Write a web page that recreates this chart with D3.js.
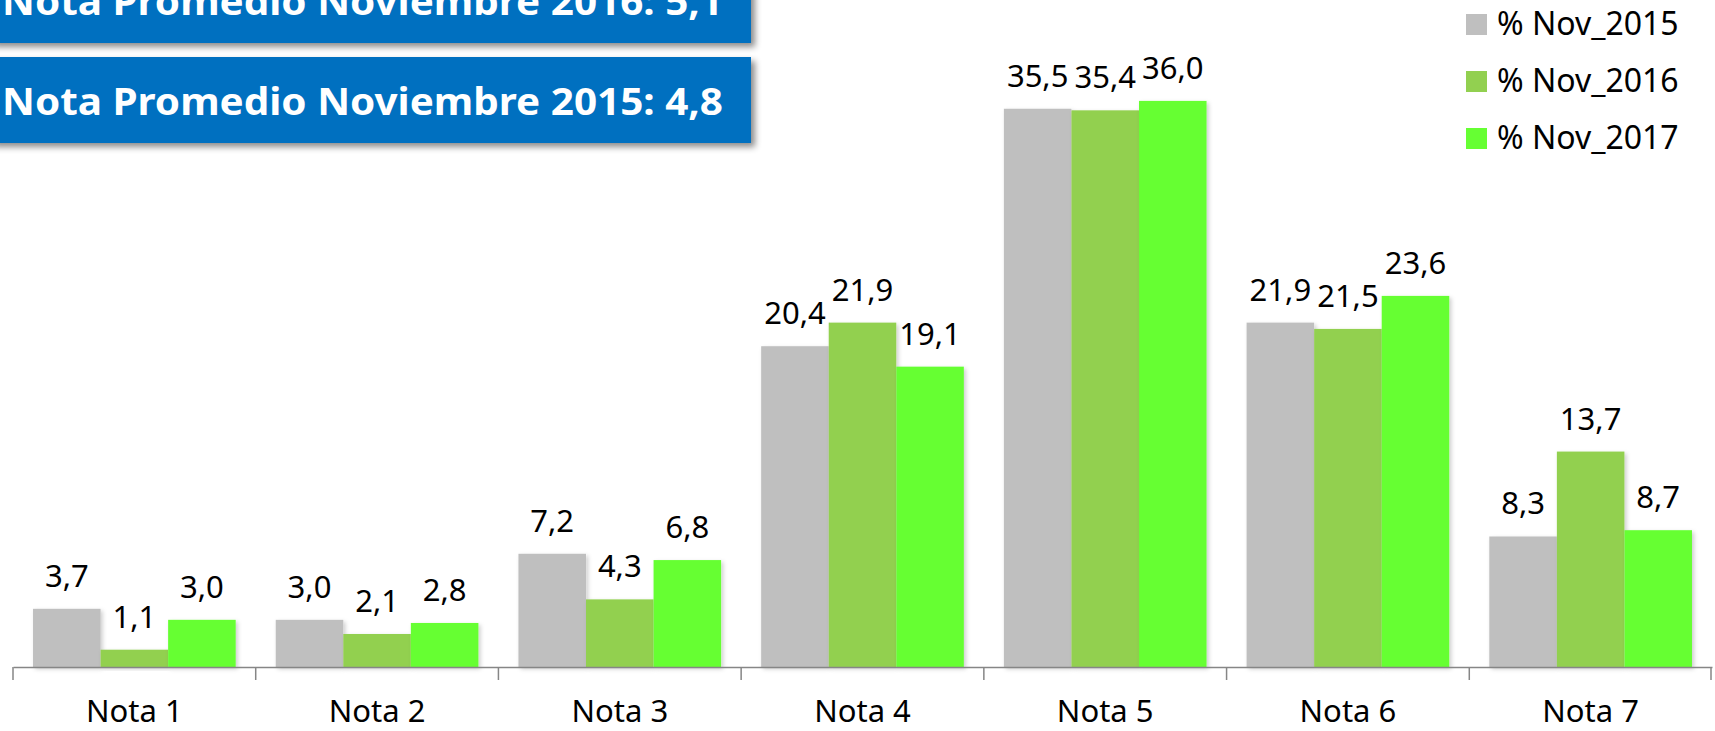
<!DOCTYPE html>
<html>
<head>
<meta charset="utf-8">
<script src="https://cdn.jsdelivr.net/npm/d3@7"></script>
<style>
  html, body { margin: 0; padding: 0; background: #fff; }
  svg { display: block; }
</style>
</head>
<body>
<div id="chart"></div>
<script>
const categories = ['Nota 1', 'Nota 2', 'Nota 3', 'Nota 4', 'Nota 5', 'Nota 6', 'Nota 7'];
const seriesNames = ['% Nov_2015', '% Nov_2016', '% Nov_2017'];
const nov2015 = [3.7, 3.0, 7.2, 20.4, 35.5, 21.9, 8.3];
const nov2016 = [1.1, 2.1, 4.3, 21.9, 35.4, 21.5, 13.7];
const nov2017 = [3.0, 2.8, 6.8, 19.1, 36.0, 23.6, 8.7];
const boxTexts = ['Nota Promedio Noviembre 2016: 5,1', 'Nota Promedio Noviembre 2015: 4,8'];

const colors = ['#BFBFBF', '#92D050', '#66FF33'];
const series = [nov2015, nov2016, nov2017];

const width = 1715, height = 731;
const margin = { top: 38, right: 3, bottom: 64, left: 13 };
const axisY = height - margin.bottom;

const svg = d3.select('#chart')
  .append('svg')
  .attr('width', width)
  .attr('height', height);

const defs = svg.append('defs');
const shadow = defs.append('filter').attr('id', 'shadow')
  .attr('x', '-5%').attr('y', '-20%').attr('width', '115%').attr('height', '160%');
shadow.append('feDropShadow')
  .attr('dx', 4).attr('dy', 4).attr('stdDeviation', 3)
  .attr('flood-color', '#000').attr('flood-opacity', 0.45);

const barShadow = defs.append('filter').attr('id', 'barShadow')
  .attr('x', '-10%').attr('y', '-10%').attr('width', '130%').attr('height', '130%');
barShadow.append('feDropShadow')
  .attr('dx', 2).attr('dy', 2).attr('stdDeviation', 2)
  .attr('flood-color', '#000').attr('flood-opacity', 0.2);

const x = d3.scaleBand()
  .domain(categories)
  .range([margin.left, width - margin.right])
  .paddingInner(0.165)
  .paddingOuter(0.0825);

// outer band for ticks (no padding)
const xTick = d3.scaleBand()
  .domain(categories)
  .range([margin.left, width - margin.right]);

const xSub = d3.scaleBand()
  .domain(d3.range(series.length))
  .range([0, x.bandwidth()]);

const y = d3.scaleLinear().domain([0, 40]).range([axisY, margin.top]);

// bars
const groups = svg.append('g').selectAll('g')
  .data(categories)
  .join('g')
  .attr('transform', d => `translate(${x(d)},0)`);

groups.selectAll('rect')
  .data((d, i) => series.map((s, k) => ({ k, v: s[i] })))
  .join('rect')
  .attr('x', d => xSub(d.k))
  .attr('y', d => y(d.v))
  .attr('width', xSub.bandwidth())
  .attr('height', d => y(0) - y(d.v))
  .attr('fill', d => colors[d.k])
  .attr('filter', 'url(#barShadow)');

groups.selectAll('text')
  .data((d, i) => series.map((s, k) => ({ k, v: s[i] })))
  .join('text')
  .attr('x', d => xSub(d.k) + xSub.bandwidth() / 2)
  .attr('y', d => y(d.v) - 22)
  .attr('text-anchor', 'middle')
  .attr('font-family', 'Noto Sans, sans-serif')
  .attr('font-size', 31)
  .attr('fill', '#000')
  .text(d => d.v.toFixed(1).replace('.', ','));

// x axis
const axis = svg.append('g')
  .attr('transform', `translate(0,${axisY})`)
  .call(d3.axisBottom(xTick).tickSize(0).tickFormat(''));
axis.select('.domain').attr('stroke', '#868686').attr('stroke-width', 1.5);
axis.selectAll('.tick').remove();

const tickPos = categories.map(c => xTick(c)).concat([xTick.range()[1] - 1]);
axis.selectAll('line.tk')
  .data(tickPos)
  .join('line')
  .attr('class', 'tk')
  .attr('x1', d => d).attr('x2', d => d)
  .attr('y1', 0).attr('y2', 13)
  .attr('stroke', '#868686').attr('stroke-width', 1.5);

axis.selectAll('text.cat')
  .data(categories)
  .join('text')
  .attr('class', 'cat')
  .attr('x', d => xTick(d) + xTick.bandwidth() / 2)
  .attr('y', 55)
  .attr('text-anchor', 'middle')
  .attr('font-family', 'Noto Sans, sans-serif')
  .attr('font-size', 31)
  .attr('fill', '#000')
  .text(d => d);

// legend
const legend = svg.append('g').attr('transform', 'translate(1466,14)');
const li = legend.selectAll('g')
  .data(seriesNames)
  .join('g')
  .attr('transform', (d, i) => `translate(0,${i * 57})`);
li.append('rect').attr('width', 21).attr('height', 21).attr('fill', (d, i) => colors[i]);
li.append('text')
  .attr('x', 31).attr('y', 21)
  .attr('font-family', 'Noto Sans, sans-serif')
  .attr('font-size', 32)
  .attr('fill', '#000')
  .text(d => d);

// info boxes
const boxes = svg.append('g').selectAll('g')
  .data(boxTexts)
  .join('g')
  .attr('transform', (d, i) => `translate(0,${-43 + i * 100})`);
boxes.append('rect')
  .attr('x', -10).attr('y', 0)
  .attr('width', 761).attr('height', 86)
  .attr('fill', '#0070C0')
  .attr('filter', 'url(#shadow)');
boxes.append('text')
  .attr('x', 2).attr('y', 58)
  .attr('font-family', 'Noto Sans, sans-serif')
  .attr('font-weight', 'bold')
  .attr('font-size', 38)
  .attr('fill', '#fff')
  .text(d => d)
  .each(function () {
    const w = this.getComputedTextLength();
    if (w > 0) d3.select(this).attr('textLength', 721).attr('lengthAdjust', 'spacingAndGlyphs');
  });
</script>
</body>
</html>
